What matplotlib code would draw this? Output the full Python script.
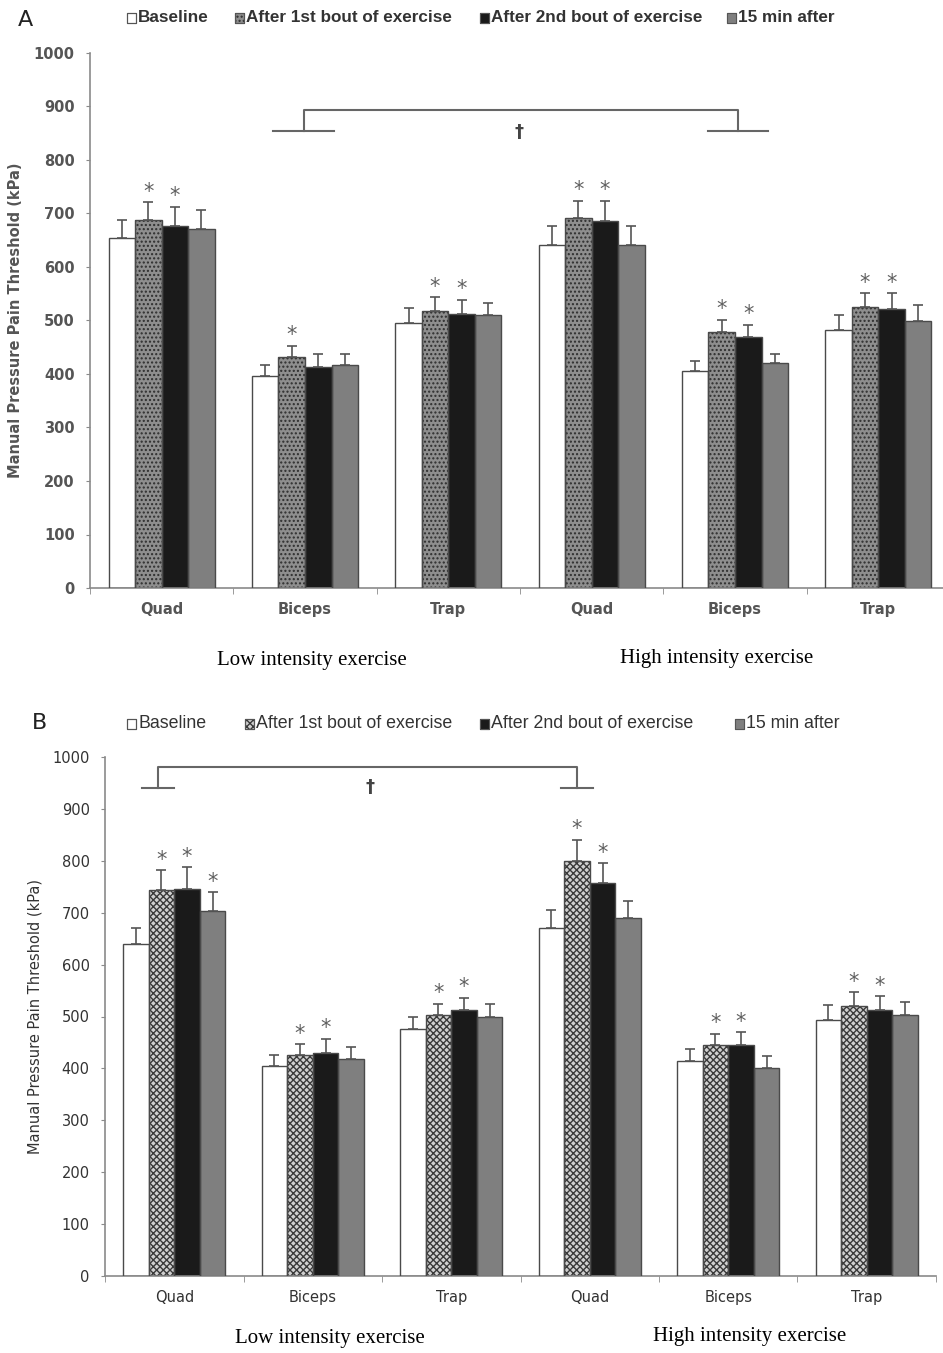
import matplotlib.pyplot as plt
from matplotlib.patches import Rectangle
import numpy as np

muscles = ['Quad', 'Biceps', 'Trap', 'Quad', 'Biceps', 'Trap']
conditions = ['Baseline', 'After 1st bout of exercise',
              'After 2nd bout of exercise', '15 min after']
intensity = ['Low intensity exercise', 'High intensity exercise']

# panel A: means and upper SE (kPa)
a_base = [654, 397, 495, 642, 406, 483]
a_bout1 = [688, 431, 518, 692, 479, 526]
a_bout2 = [676, 414, 512, 686, 469, 522]
a_15min = [671, 416, 510, 641, 420, 499]
a_base_err = [33, 20, 29, 34, 19, 28]
a_bout1_err = [33, 21, 25, 32, 22, 25]
a_bout2_err = [36, 24, 26, 38, 23, 29]
a_15min_err = [35, 22, 23, 35, 18, 30]
a_stars = [[0, 0, 0, 0, 0, 0],
           [1, 1, 1, 1, 1, 1],
           [1, 0, 1, 1, 1, 1],
           [0, 0, 0, 0, 0, 0]]

# panel B
b_base = [639, 405, 476, 670, 414, 493]
b_bout1 = [743, 426, 502, 800, 445, 520]
b_bout2 = [746, 430, 512, 758, 445, 512]
b_15min = [703, 418, 500, 690, 401, 502]
b_base_err = [31, 21, 24, 35, 23, 30]
b_bout1_err = [39, 21, 23, 41, 22, 27]
b_bout2_err = [42, 27, 24, 37, 25, 27]
b_15min_err = [36, 24, 24, 33, 22, 26]
b_stars = [[0, 0, 0, 0, 0, 0],
           [1, 1, 1, 1, 1, 1],
           [1, 1, 1, 1, 1, 1],
           [1, 0, 0, 0, 0, 0]]

W, H = 943, 1353
fig = plt.figure(figsize=(W / 100, H / 100), dpi=100)


def px_axes(x0, x1, ytop, ybot):
    return fig.add_axes([x0 / W, (H - ybot) / H, (x1 - x0) / W, (ybot - ytop) / H])


def draw_panel(ax, means, errs, stars, bout1_style, bold, tcol):
    x = np.arange(len(muscles))
    width = 0.185
    offs = (np.arange(4) - 1.5) * width
    styles = [dict(facecolor='white', hatch=None, hcol='#555555'),
              bout1_style,
              dict(facecolor='#1a1a1a', hatch=None, hcol='#1a1a1a'),
              dict(facecolor='#7f7f7f', hatch=None, hcol='#7f7f7f')]
    for k in range(4):
        st = styles[k]
        ax.bar(x + offs[k], means[k], width, color=st['facecolor'],
               hatch=st['hatch'], edgecolor=st['hcol'], linewidth=0, zorder=2)
        ax.bar(x + offs[k], means[k], width, facecolor='none',
               edgecolor='#4a4a4a', linewidth=1.0, zorder=3)
        ax.errorbar(x + offs[k], means[k],
                    yerr=[np.zeros(len(x)), errs[k]], fmt='none',
                    ecolor='#555555', elinewidth=1.2, capsize=3.5,
                    capthick=1.2, zorder=4)
        for i in range(len(x)):
            if stars[k][i]:
                ax.text(x[i] + offs[k], means[k][i] + errs[k][i] + 20, '*',
                        ha='center', va='center', fontsize=15,
                        color='#606060', zorder=5)
    ax.set_xlim(-0.5, 5.5)
    ax.set_ylim(0, 1000)
    ax.set_yticks(np.arange(0, 1001, 100))
    ax.set_xticks(x)
    ax.set_xticklabels(muscles)
    ax.set_xticks(np.arange(-0.5, 5.6, 1.0), minor=True)
    for s in ['top', 'right']:
        ax.spines[s].set_visible(False)
    for s in ['left', 'bottom']:
        ax.spines[s].set_color('#8a8a8a')
        ax.spines[s].set_linewidth(1.2)
    wt = 'bold' if bold else 'normal'
    ax.tick_params(axis='x', which='major', length=0, pad=10, labelsize=10.5,
                   labelcolor=tcol)
    ax.tick_params(axis='x', which='minor', length=4, color='#8a8a8a')
    ax.tick_params(axis='y', length=3, color='#8a8a8a', labelsize=10.5,
                   labelcolor=tcol, pad=8)
    for lab in ax.get_xticklabels() + ax.get_yticklabels():
        lab.set_fontweight(wt)
    ax.set_ylabel('Manual Pressure Pain Threshold (kPa)', fontsize=10.5,
                  fontweight=wt, color=tcol)


def bracket(ax, xl, xr, ylow, yhigh, half, xd, yd):
    col = '#666666'
    ax.plot([xl - half, xl + half], [ylow, ylow], color=col, lw=1.5, zorder=5)
    ax.plot([xr - half, xr + half], [ylow, ylow], color=col, lw=1.5, zorder=5)
    ax.plot([xl, xl, xr, xr], [ylow, yhigh, yhigh, ylow], color=col, lw=1.5,
            zorder=5)
    ax.text(xd, yd, '\u2020', ha='center', va='center', fontsize=13,
            color='#444444', fontweight='bold')


def legend_row(ytop_px, xs_px, bout1_style, bold, fsize):
    faces = ['white', bout1_style['facecolor'], '#1a1a1a', '#7f7f7f']
    hatches = [None, bout1_style['hatch'], None, None]
    hcols = ['#555555', bout1_style['hcol'], '#1a1a1a', '#7f7f7f']
    for k in range(4):
        x0 = xs_px[k]
        r = Rectangle((x0 / W, (H - ytop_px - 5) / H), 9 / W, 10 / H,
                      transform=fig.transFigure, facecolor=faces[k],
                      hatch=hatches[k], edgecolor=hcols[k], linewidth=0.8)
        fig.patches.append(r)
        r2 = Rectangle((x0 / W, (H - ytop_px - 5) / H), 9 / W, 10 / H,
                       transform=fig.transFigure, facecolor='none',
                       edgecolor='#555555', linewidth=0.8)
        fig.patches.append(r2)
        fig.text((x0 + 11) / W, (H - ytop_px) / H, conditions[k],
                 ha='left', va='center', fontsize=fsize,
                 family=['Liberation Sans', 'DejaVu Sans'],
                 fontweight='bold' if bold else 'normal', color='#333333')


# ---------------- Panel A ----------------
style_a = dict(facecolor='#8e8e8e', hatch='....', hcol='#2e2e2e')
axA = px_axes(90, 950, 53, 588)
draw_panel(axA, [a_base, a_bout1, a_bout2, a_15min],
           [a_base_err, a_bout1_err, a_bout2_err, a_15min_err],
           a_stars, style_a, True, '#555555')
axA.yaxis.set_label_coords(-0.078, 0.5)
bracket(axA, 0.99, 4.02, 855, 893, 0.21, 2.49, 853)
fig.text(18 / W, (H - 20) / H, 'A', fontsize=16, ha='left', va='center',
         color='#222222')
legend_row(18, [127, 235, 480, 727], style_a, True, 12.3)

# ---------------- Panel B ----------------
style_b = dict(facecolor='#d0d0d0', hatch='xxxxx', hcol='#3a3a3a')
axB = px_axes(105, 936, 757, 1276)
draw_panel(axB, [b_base, b_bout1, b_bout2, b_15min],
           [b_base_err, b_bout1_err, b_bout2_err, b_15min_err],
           b_stars, style_b, False, '#333333')
axB.yaxis.set_label_coords(-0.075, 0.5)
bracket(axB, -0.12, 2.91, 940, 980, 0.115, 1.41, 942)
fig.text(40 / W, (H - 723) / H, 'B', fontsize=16, ha='center', va='center',
         color='#222222')
legend_row(724, [127, 245, 480, 735], style_b, False, 12.8)

# intensity labels
serif = ['Liberation Serif', 'DejaVu Serif']
fig.text(312 / W, (H - 660) / H, intensity[0], ha='center', va='center',
         fontsize=15, family=serif)
fig.text(717 / W, (H - 658) / H, intensity[1], ha='center', va='center',
         fontsize=15, family=serif)
fig.text(330 / W, (H - 1339) / H, intensity[0], ha='center', va='center',
         fontsize=15, family=serif)
fig.text(750 / W, (H - 1337) / H, intensity[1], ha='center', va='center',
         fontsize=15, family=serif)

fig.savefig('out.png', dpi=100, facecolor='white')
